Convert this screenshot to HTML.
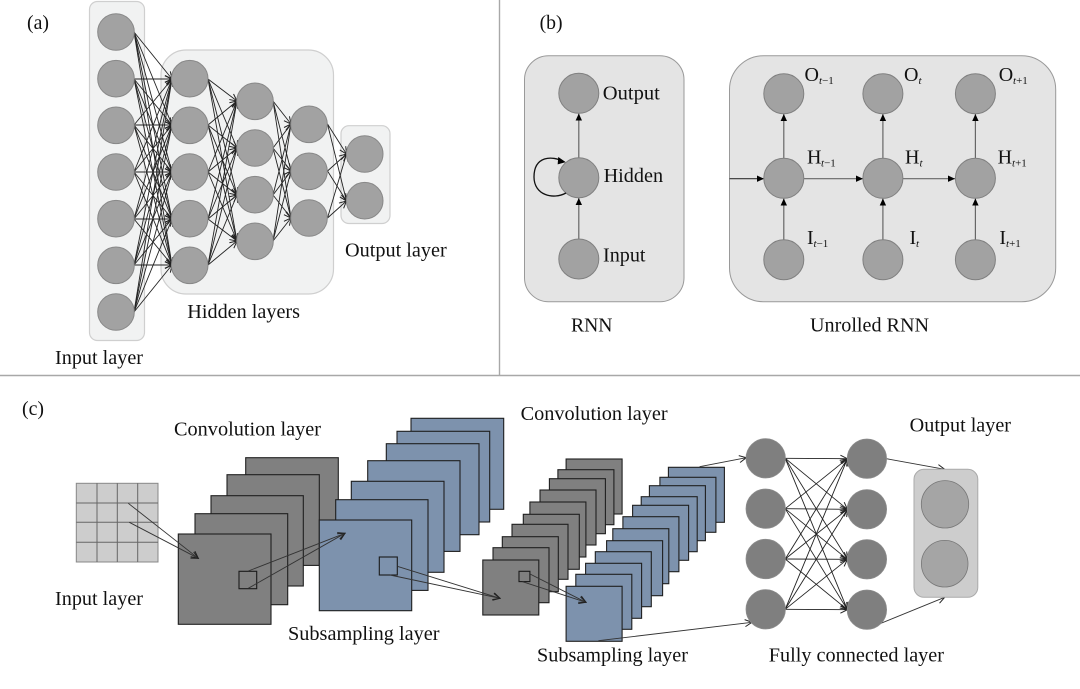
<!DOCTYPE html>
<html><head><meta charset="utf-8"><style>
html,body{margin:0;padding:0;background:#fff}
svg{display:block;filter:blur(.35px)}
text{font-family:"Liberation Serif",serif;font-size:20px;fill:#111}
.s{font-size:11px}
.i{font-style:italic}
</style></head><body>
<svg width="1080" height="689" viewBox="0 0 1080 689" xmlns="http://www.w3.org/2000/svg">
<defs>
<marker id="o" markerUnits="userSpaceOnUse" markerWidth="10" markerHeight="10" refX="8" refY="5" orient="auto"><path d="M1 1.500L8 5L1 8.500" fill="none" stroke="#222" stroke-width="1"/></marker>
<marker id="f" markerUnits="userSpaceOnUse" markerWidth="10" markerHeight="10" refX="7" refY="4" orient="auto"><path d="M0 0.800L7 4L0 7.200Z" fill="#000"/></marker>
</defs>
<rect width="1080" height="689" fill="#fff"/>
<path d="M499.500 0V375M0 375.500H1080" stroke="#a8a8a8" stroke-width="1.400" fill="none"/>

<!-- (a) -->
<rect x="89.500" y="1.500" width="55" height="339" rx="8" fill="#f1f2f2" stroke="#cfcfcf" stroke-width="1.200"/>
<rect x="161" y="50" width="172.500" height="244" rx="25" fill="#f1f2f2" stroke="#cfcfcf" stroke-width="1.200"/>
<rect x="341" y="125.700" width="49" height="97.800" rx="8" fill="#f1f2f2" stroke="#cfcfcf" stroke-width="1.200"/>
<g fill="none" stroke="#222" stroke-width=".9" marker-end="url(#o)">
<path d="M134 32L172 79"/><path d="M134 32L172 125"/><path d="M134 32L172 172"/><path d="M134 32L172 219"/><path d="M134 32L172 265"/>
<path d="M134 79L172 79"/><path d="M134 79L172 125"/><path d="M134 79L172 172"/><path d="M134 79L172 219"/><path d="M134 79L172 265"/>
<path d="M134 125L172 79"/><path d="M134 125L172 125"/><path d="M134 125L172 172"/><path d="M134 125L172 219"/><path d="M134 125L172 265"/>
<path d="M134 172L172 79"/><path d="M134 172L172 125"/><path d="M134 172L172 172"/><path d="M134 172L172 219"/><path d="M134 172L172 265"/>
<path d="M134 219L172 79"/><path d="M134 219L172 125"/><path d="M134 219L172 172"/><path d="M134 219L172 219"/><path d="M134 219L172 265"/>
<path d="M134 265L172 79"/><path d="M134 265L172 125"/><path d="M134 265L172 172"/><path d="M134 265L172 219"/><path d="M134 265L172 265"/>
<path d="M134 312L172 79"/><path d="M134 312L172 125"/><path d="M134 312L172 172"/><path d="M134 312L172 219"/><path d="M134 312L172 265"/>
<path d="M208 79L237 101"/><path d="M208 79L237 148"/><path d="M208 79L237 195"/><path d="M208 79L237 241"/>
<path d="M208 125L237 101"/><path d="M208 125L237 148"/><path d="M208 125L237 195"/><path d="M208 125L237 241"/>
<path d="M208 172L237 101"/><path d="M208 172L237 148"/><path d="M208 172L237 195"/><path d="M208 172L237 241"/>
<path d="M208 219L237 101"/><path d="M208 219L237 148"/><path d="M208 219L237 195"/><path d="M208 219L237 241"/>
<path d="M208 265L237 101"/><path d="M208 265L237 148"/><path d="M208 265L237 195"/><path d="M208 265L237 241"/>
<path d="M273 101L291 124"/><path d="M273 101L291 171"/><path d="M273 101L291 218"/>
<path d="M273 148L291 124"/><path d="M273 148L291 171"/><path d="M273 148L291 218"/>
<path d="M273 195L291 124"/><path d="M273 195L291 171"/><path d="M273 195L291 218"/>
<path d="M273 241L291 124"/><path d="M273 241L291 171"/><path d="M273 241L291 218"/>
<path d="M327.500 124L346.500 154"/><path d="M327.500 124L346.500 201"/>
<path d="M327.500 171L346.500 154"/><path d="M327.500 171L346.500 201"/>
<path d="M327.500 218L346.500 154"/><path d="M327.500 218L346.500 201"/>
</g>
<g fill="#a2a2a2" stroke="#888" stroke-width="1">
<circle cx="116" cy="32" r="18.300"/><circle cx="116" cy="78.700" r="18.300"/><circle cx="116" cy="125.300" r="18.300"/><circle cx="116" cy="172" r="18.300"/><circle cx="116" cy="218.700" r="18.300"/><circle cx="116" cy="265.300" r="18.300"/><circle cx="116" cy="312" r="18.300"/>
<circle cx="189.700" cy="78.700" r="18.300"/><circle cx="189.700" cy="125.300" r="18.300"/><circle cx="189.700" cy="172" r="18.300"/><circle cx="189.700" cy="218.700" r="18.300"/><circle cx="189.700" cy="265.300" r="18.300"/>
<circle cx="255" cy="101.300" r="18.300"/><circle cx="255" cy="148" r="18.300"/><circle cx="255" cy="194.700" r="18.300"/><circle cx="255" cy="241.300" r="18.300"/>
<circle cx="309" cy="124.300" r="18.300"/><circle cx="309" cy="171.300" r="18.300"/><circle cx="309" cy="218" r="18.300"/>
<circle cx="364.700" cy="154" r="18.300"/><circle cx="364.700" cy="200.700" r="18.300"/>
</g>
<text x="27" y="29" textLength="22" lengthAdjust="spacingAndGlyphs">(a)</text>
<text x="345" y="256.700" textLength="101.700" lengthAdjust="spacingAndGlyphs">Output layer</text>
<text x="187.300" y="318" textLength="112.700" lengthAdjust="spacingAndGlyphs">Hidden layers</text>
<text x="55" y="364" textLength="88" lengthAdjust="spacingAndGlyphs">Input layer</text>

<!-- (b) -->
<rect x="524.500" y="55.700" width="159.500" height="246" rx="24" fill="#e4e4e4" stroke="#999" stroke-width="1"/>
<rect x="729.500" y="55.700" width="326.200" height="246" rx="34" fill="#e4e4e4" stroke="#999" stroke-width="1"/>
<g fill="none" stroke="#666" stroke-width="1.200" marker-end="url(#f)">
<path d="M578.800 158V113.500"/><path d="M578.800 239V198"/>
<path d="M783.800 159V114"/><path d="M882.900 159V114"/><path d="M975.400 159V114"/>
<path d="M783.800 240V198.500"/><path d="M882.900 240V198.500"/><path d="M975.400 240V198.500"/>
<path d="M804 178.700H863"/><path d="M903 178.700H955"/>
<path d="M729.500 178.700H764" stroke="#333"/>
</g>
<g fill="#a2a2a2" stroke="#808080" stroke-width="1">
<circle cx="578.800" cy="93.300" r="20"/><circle cx="578.800" cy="177.700" r="20"/><circle cx="578.800" cy="259" r="20"/>
<circle cx="783.800" cy="93.700" r="20"/><circle cx="882.900" cy="93.700" r="20"/><circle cx="975.400" cy="93.700" r="20"/>
<circle cx="783.800" cy="178.300" r="20"/><circle cx="882.900" cy="178.300" r="20"/><circle cx="975.400" cy="178.300" r="20"/>
<circle cx="783.800" cy="259.700" r="20"/><circle cx="882.900" cy="259.700" r="20"/><circle cx="975.400" cy="259.700" r="20"/>
</g>
<path d="M564 162C552 155 534 156 534 177C534 195 553 200 566 193" fill="none" stroke="#111" stroke-width="1.300"/>
<path d="M558.500 157.500L565 162L558 164Z" fill="#000" stroke="#000" stroke-width=".6"/>
<text x="539.600" y="29" textLength="23" lengthAdjust="spacingAndGlyphs">(b)</text>
<text x="602.800" y="99.300" textLength="57" lengthAdjust="spacingAndGlyphs">Output</text>
<text x="603.600" y="182" textLength="59.500" lengthAdjust="spacingAndGlyphs">Hidden</text>
<text x="603" y="261.700" textLength="42.500" lengthAdjust="spacingAndGlyphs">Input</text>
<text x="571" y="331.700" textLength="41.500" lengthAdjust="spacingAndGlyphs">RNN</text>
<text x="810" y="331.700" textLength="119" lengthAdjust="spacingAndGlyphs">Unrolled RNN</text>
<text x="804.500" y="81">O</text><text class="s" x="819" y="84"><tspan class="i">t</tspan>−1</text>
<text x="904" y="81">O</text><text class="s i" x="918.500" y="84">t</text>
<text x="998.700" y="81">O</text><text class="s" x="1013" y="84"><tspan class="i">t</tspan>+1</text>
<text x="807" y="163.500">H</text><text class="s" x="821" y="166.500"><tspan class="i">t</tspan>−1</text>
<text x="905" y="163.500">H</text><text class="s i" x="919.500" y="166.500">t</text>
<text x="997.600" y="163.500">H</text><text class="s" x="1012" y="166.500"><tspan class="i">t</tspan>+1</text>
<text x="807" y="244">I</text><text class="s" x="813.500" y="247"><tspan class="i">t</tspan>−1</text>
<text x="909.500" y="244">I</text><text class="s i" x="916" y="247">t</text>
<text x="999.400" y="244">I</text><text class="s" x="1006" y="247"><tspan class="i">t</tspan>+1</text>

<!-- (c) -->
<rect x="76.300" y="483.300" width="81.700" height="78.700" fill="#cdcdcd" stroke="#888" stroke-width="1"/>
<path d="M97 483.300V562M117.300 483.300V562M137.700 483.300V562M76.300 503H158M76.300 522.300H158M76.300 542.300H158" stroke="#666" stroke-width="1" fill="none"/>
<g fill="#808080" stroke="#1f1f1f" stroke-width="1.100">
<rect x="245.700" y="457.700" width="92.600" height="90.300"/>
<rect x="227" y="474.700" width="92.300" height="90.700"/>
<rect x="211" y="495.700" width="92.300" height="90.300"/>
<rect x="195" y="513.700" width="92.700" height="91"/>
<rect x="178.300" y="534" width="92.700" height="90.300"/>
</g>
<g fill="#7d92ad" stroke="#1f1f1f" stroke-width="1.100">
<rect x="411" y="418.300" width="92.700" height="91"/>
<rect x="397" y="431.300" width="92.700" height="90.700"/>
<rect x="386.300" y="443.700" width="92.700" height="91"/>
<rect x="367.700" y="460.700" width="92.300" height="90.700"/>
<rect x="351.300" y="481.300" width="92.700" height="91"/>
<rect x="335.700" y="499.700" width="92.300" height="90.700"/>
<rect x="319.300" y="520" width="92.400" height="90.700"/>
</g>
<rect x="239" y="571.300" width="17.700" height="17.400" fill="none" stroke="#1a1a1a" stroke-width="1.100"/>
<rect x="379.300" y="557" width="18" height="18" fill="none" stroke="#1a1a1a" stroke-width="1.100"/>
<g fill="#808080" stroke="#1f1f1f" stroke-width="1.100">
<rect x="566.100" y="459" width="56" height="55"/>
<rect x="557.900" y="469.700" width="56" height="55"/>
<rect x="549.400" y="478.700" width="56" height="55"/>
<rect x="540" y="490" width="56" height="55"/>
<rect x="529.900" y="502" width="56" height="55"/>
<rect x="523.300" y="514.300" width="56" height="55"/>
<rect x="512" y="524.300" width="56" height="55"/>
<rect x="502.300" y="536.700" width="56" height="55"/>
<rect x="493" y="547.700" width="56" height="55"/>
<rect x="482.800" y="560" width="56" height="55"/>
</g>
<g fill="#7d92ad" stroke="#1f1f1f" stroke-width="1.100">
<rect x="668.400" y="467.300" width="56" height="55"/>
<rect x="659.900" y="477.300" width="56" height="55"/>
<rect x="649.400" y="485.700" width="56" height="55"/>
<rect x="641.200" y="496.700" width="56" height="55"/>
<rect x="632.600" y="505.300" width="56" height="55"/>
<rect x="622.900" y="516.700" width="56" height="55"/>
<rect x="612.800" y="528.700" width="56" height="55"/>
<rect x="606.600" y="540.700" width="56" height="55"/>
<rect x="595.300" y="551.700" width="56" height="55"/>
<rect x="585.600" y="563.300" width="56" height="55"/>
<rect x="575.800" y="574.300" width="56" height="55"/>
<rect x="566.100" y="586.300" width="56" height="55"/>
</g>
<rect x="519" y="571.300" width="10.900" height="10.300" fill="none" stroke="#1a1a1a" stroke-width="1.100"/>
<g fill="none" stroke="#333" stroke-width=".9" marker-end="url(#o)">
<path d="M128.300 503.300L198.300 558.300"/><path d="M129.300 522.300L198.300 558.300"/>
<path d="M248.300 571L345 533.300"/><path d="M248.300 588.300L345 533.300"/>
<path d="M397.300 566.300L500 598.300"/><path d="M390 575L500 598.300"/>
<path d="M530 574L586 602.300"/><path d="M522.500 581.700L586 602.300"/>
<path d="M699.600 466.700L746.300 457.700"/><path d="M598.400 640.700L752 622.300"/>
<path d="M886.300 458.700L944.700 469.300"/><path d="M866.900 629L944.700 597.300"/>
</g>
<g fill="none" stroke="#222" stroke-width=".9" marker-end="url(#o)">
<path d="M785.200 458.300L847.400 458.700"/><path d="M785.200 458.300L847.400 509.300"/><path d="M785.200 458.300L847.400 559.300"/><path d="M785.200 458.300L847.400 609.700"/>
<path d="M785.200 508.700L847.400 458.700"/><path d="M785.200 508.700L847.400 509.300"/><path d="M785.200 508.700L847.400 559.300"/><path d="M785.200 508.700L847.400 609.700"/>
<path d="M785.200 559L847.400 458.700"/><path d="M785.200 559L847.400 509.300"/><path d="M785.200 559L847.400 559.300"/><path d="M785.200 559L847.400 609.700"/>
<path d="M785.200 609.300L847.400 458.700"/><path d="M785.200 609.300L847.400 509.300"/><path d="M785.200 609.300L847.400 559.300"/><path d="M785.200 609.300L847.400 609.700"/>
</g>
<g fill="#7f7f7f" stroke="#8c8c8c" stroke-width=".8">
<circle cx="765.700" cy="458.300" r="19.700"/><circle cx="765.700" cy="508.700" r="19.700"/><circle cx="765.700" cy="559" r="19.700"/><circle cx="765.700" cy="609.300" r="19.700"/>
<circle cx="866.900" cy="458.700" r="19.700"/><circle cx="866.900" cy="509.300" r="19.700"/><circle cx="866.900" cy="559.300" r="19.700"/><circle cx="866.900" cy="609.700" r="19.700"/>
</g>
<rect x="914" y="469.300" width="63.800" height="128" rx="10" fill="#cdcdcd" stroke="#aaa" stroke-width="1"/>
<circle cx="945" cy="504.300" r="23.700" fill="#a5a5a5" stroke="#777" stroke-width=".8"/>
<circle cx="944.700" cy="563.700" r="23.300" fill="#a5a5a5" stroke="#777" stroke-width=".8"/>
<text x="22" y="415" textLength="22" lengthAdjust="spacingAndGlyphs">(c)</text>
<text x="174" y="435.700" textLength="147" lengthAdjust="spacingAndGlyphs">Convolution layer</text>
<text x="55" y="605" textLength="88" lengthAdjust="spacingAndGlyphs">Input layer</text>
<text x="288" y="640" textLength="151.500" lengthAdjust="spacingAndGlyphs">Subsampling layer</text>
<text x="520.600" y="420" textLength="147" lengthAdjust="spacingAndGlyphs">Convolution layer</text>
<text x="909.700" y="431.700" textLength="101.300" lengthAdjust="spacingAndGlyphs">Output layer</text>
<text x="537" y="661.700" textLength="151" lengthAdjust="spacingAndGlyphs">Subsampling layer</text>
<text x="768.800" y="661.700" textLength="175.200" lengthAdjust="spacingAndGlyphs">Fully connected layer</text>
</svg>
</body></html>
